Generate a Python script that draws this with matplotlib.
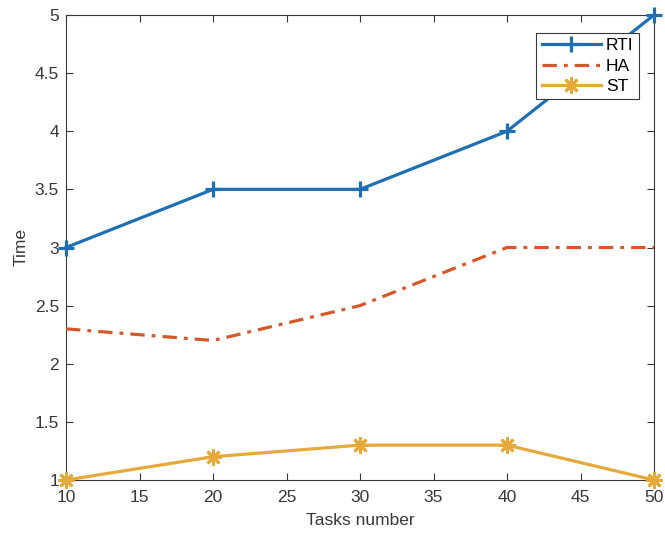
import matplotlib
matplotlib.use("Agg")
import matplotlib.pyplot as plt

plt.rcParams['font.family'] = ['Liberation Sans', 'DejaVu Sans']

tasks = [10, 20, 30, 40, 50]
rti = [3.0, 3.5, 3.5, 4.0, 5.0]
ha = [2.3, 2.2, 2.5, 3.0, 3.0]
st = [1.0, 1.2, 1.3, 1.3, 1.0]

TXT = '#383838'
fig = plt.figure(figsize=(6.65, 5.34), dpi=100)
ax = fig.add_axes([66/665, 1-480/534, (654-66)/665, (480-15)/534])

ax.plot(tasks, rti, color='#1F6FB5', lw=2.3, marker='+', ms=12, mew=2.3, label='RTI', clip_on=False, zorder=3)
ax.plot(tasks, ha, color='#D4582A', lw=2.3, ls=(0, (4.5, 2.2, 1.2, 2.2)), label='HA', clip_on=False, zorder=3)
ax.plot(tasks, st, color='#E5AA3B', lw=2.3, marker=(8, 2, 0), ms=12, mew=2.0, label='ST', clip_on=False, zorder=3)

ax.set_xlim(10, 50)
ax.set_ylim(1, 5)
ax.set_xticks([10, 15, 20, 25, 30, 35, 40, 45, 50])
ax.set_yticks([1, 1.5, 2, 2.5, 3, 3.5, 4, 4.5, 5])
ax.set_yticklabels(['1', '1.5', '2', '2.5', '3', '3.5', '4', '4.5', '5'])
ax.tick_params(direction='in', top=True, right=True, length=5, width=0.8, labelsize=12.5, colors=TXT)
ax.tick_params(axis='x', pad=7)
ax.tick_params(axis='y', pad=5)
for s in ax.spines.values():
    s.set_color(TXT)
    s.set_linewidth(0.8)
ax.set_xlabel('Tasks number', fontsize=12.5, color=TXT, labelpad=6)
ax.set_ylabel('Time', fontsize=12.5, color=TXT, labelpad=4)

leg = ax.legend(loc='upper right', bbox_to_anchor=(0.974, 0.961), fontsize=12.5, frameon=True, fancybox=False,
                edgecolor=TXT, framealpha=1, handlelength=3.4, borderpad=0.3, labelspacing=0.3,
                handletextpad=0.3, borderaxespad=0)
leg.get_frame().set_linewidth(0.8)
leg.set_zorder(10)

fig.savefig('out.png', dpi=100)
